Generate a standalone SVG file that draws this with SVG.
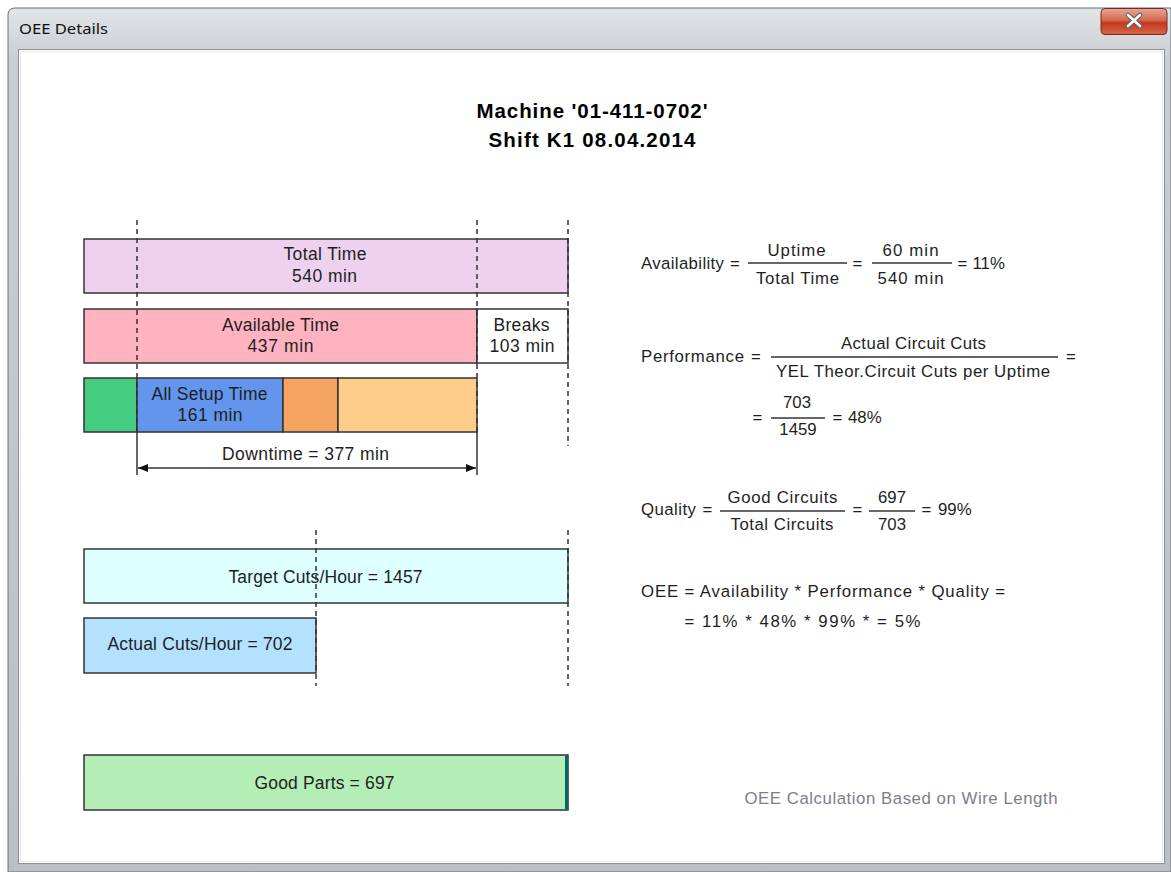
<svg xmlns="http://www.w3.org/2000/svg" width="1171" height="872" viewBox="0 0 1171 872">
<defs>
<linearGradient id="frameG" x1="0" y1="0" x2="0" y2="1">
<stop offset="0" stop-color="#e2e5e8"/><stop offset="0.06" stop-color="#c9ced3"/><stop offset="1" stop-color="#b9bfc5"/>
</linearGradient>
<linearGradient id="closeG" x1="0" y1="0" x2="0" y2="1">
<stop offset="0" stop-color="#e9a896"/><stop offset="0.45" stop-color="#d4684f"/><stop offset="0.55" stop-color="#c2391c"/><stop offset="1" stop-color="#d8664a"/>
</linearGradient>
<marker id="arrL" viewBox="0 0 10 8" refX="0" refY="4" markerWidth="10" markerHeight="8" markerUnits="userSpaceOnUse" orient="auto">
<path d="M10,0 L0,4 L10,8 Z" fill="#111"/>
</marker>
<marker id="arrR" viewBox="0 0 10 8" refX="10" refY="4" markerWidth="10" markerHeight="8" markerUnits="userSpaceOnUse" orient="auto">
<path d="M0,0 L10,4 L0,8 Z" fill="#111"/>
</marker>
<style>
.bar{stroke:#333;stroke-width:1.5}
.bt{font-family:"Liberation Sans",Arial,sans-serif;font-size:17.5px;fill:#1e1e1e}
.ft{font-family:"Liberation Sans",Arial,sans-serif;font-size:16.8px;fill:#1e1e1e}
.mid{text-anchor:middle}
.ttl{font-family:"Liberation Sans",Arial,sans-serif;font-size:20.5px;font-weight:bold;fill:#000}
.fl{stroke:#333;stroke-width:1.5}
.dash{stroke:#333;stroke-width:1.5;stroke-dasharray:5 4;fill:none}
.sol{stroke:#333;stroke-width:1.5;fill:none}
</style>
</defs>
<rect x="0" y="0" width="1171" height="872" fill="#ffffff"/>
<g id="window">
<path d="M8,872 L8,15 Q8,8 15,8 L1171,8 L1171,872 Z" fill="url(#frameG)" stroke="#6b6f74" stroke-width="1"/>
<text x="19" y="34" font-family="'Noto Sans','Open Sans',sans-serif" font-size="14.5" fill="#111" textLength="89" lengthAdjust="spacingAndGlyphs">OEE Details</text>
<rect x="18.5" y="49.5" width="1146" height="814" fill="#ffffff" stroke="#8c8f93" stroke-width="1"/>
<rect x="20.5" y="51.5" width="1142" height="810" fill="none" stroke="#e8e8e8" stroke-width="1"/>
<g id="close-btn">
<rect x="1101" y="8.5" width="66" height="26" rx="4" fill="url(#closeG)" stroke="#7a2a1a" stroke-width="1"/>
<path d="M1128,15 L1140,26 M1140,15 L1128,26" stroke="#5a5a6a" stroke-width="4.5" stroke-linecap="round"/>
<path d="M1128,15 L1140,26 M1140,15 L1128,26" stroke="#ffffff" stroke-width="2.6" stroke-linecap="round"/>
</g>
</g>
<g id="title">
<text class="ttl" x="476.5" y="118" textLength="231" lengthAdjust="spacing">Machine '01-411-0702'</text>
<text class="ttl" x="488.5" y="147" textLength="207" lengthAdjust="spacing">Shift K1 08.04.2014</text>
</g>
<g id="total-time">
<rect class="bar" x="84" y="239" width="484" height="54" fill="#eed1ee"/>
<text class="bt" x="283.5" y="260" textLength="83" lengthAdjust="spacing">Total Time</text>
<text class="bt" x="292" y="282" textLength="65" lengthAdjust="spacing">540 min</text>
</g>
<g id="available-time">
<rect class="bar" x="84" y="309" width="393" height="54" fill="#ffb3c0"/>
<text class="bt" x="222" y="331" textLength="117" lengthAdjust="spacing">Available Time</text>
<text class="bt" x="247.5" y="352" textLength="66" lengthAdjust="spacing">437 min</text>
</g>
<g id="breaks">
<rect class="bar" x="477" y="309" width="91" height="54" fill="#ffffff"/>
<text class="bt" x="493.5" y="331" textLength="56" lengthAdjust="spacing">Breaks</text>
<text class="bt" x="489.5" y="352" textLength="65" lengthAdjust="spacing">103 min</text>
</g>
<g id="uptime">
<rect class="bar" x="84" y="378" width="53" height="54" fill="#44cc80"/>
</g>
<g id="setup-time">
<rect class="bar" x="137" y="378" width="146" height="54" fill="#6495ed"/>
<text class="bt" x="151.5" y="399.5" textLength="116" lengthAdjust="spacing">All Setup Time</text>
<text class="bt" x="177.5" y="421" textLength="65" lengthAdjust="spacing">161 min</text>
</g>
<g id="downtime-2">
<rect class="bar" x="283" y="378" width="55" height="54" fill="#f4a460"/>
</g>
<g id="downtime-3">
<rect class="bar" x="338" y="378" width="139" height="54" fill="#ffcd8a"/>
</g>
<g id="target-cuts">
<rect class="bar" x="84" y="549" width="484" height="54" fill="#ddffff"/>
<text class="bt" x="228.5" y="583" textLength="194" lengthAdjust="spacing">Target Cuts/Hour = 1457</text>
</g>
<g id="actual-cuts">
<rect class="bar" x="84" y="618" width="232" height="55" fill="#b3e1fe"/>
<text class="bt" x="107.5" y="650" textLength="185" lengthAdjust="spacing">Actual Cuts/Hour = 702</text>
</g>
<g id="good-parts">
<rect class="bar" x="84" y="755" width="484" height="55" fill="#b4eeb6"/>
<rect x="565" y="755.5" width="3" height="54" fill="#006b6b"/>
<text class="bt" x="254.5" y="789" textLength="140" lengthAdjust="spacing">Good Parts = 697</text>
</g>
<g id="connectors">
<line class="dash" x1="137" y1="220" x2="137" y2="432"/>
<line class="dash" x1="477" y1="220" x2="477" y2="432"/>
<line class="dash" x1="568" y1="220" x2="568" y2="446"/>
<line class="sol" x1="137" y1="432" x2="137" y2="475"/>
<line class="sol" x1="477" y1="432" x2="477" y2="475"/>
<line class="sol" x1="138" y1="468" x2="476" y2="468" marker-start="url(#arrL)" marker-end="url(#arrR)"/>
<text class="bt" x="222" y="460" textLength="167" lengthAdjust="spacing">Downtime = 377 min</text>
<line class="dash" x1="316" y1="530" x2="316" y2="686"/>
<line class="dash" x1="568" y1="530" x2="568" y2="686"/>
</g>
<g id="availability">
<text class="ft" x="641" y="268.5" textLength="83" lengthAdjust="spacing">Availability</text>
<text class="ft mid" x="735" y="269">=</text>
<text class="ft" x="767.5" y="256" textLength="58" lengthAdjust="spacing">Uptime</text>
<line class="fl" x1="748" y1="263" x2="847" y2="263"/>
<text class="ft" x="756" y="284" textLength="83" lengthAdjust="spacing">Total Time</text>
<text class="ft mid" x="857.5" y="269">=</text>
<text class="ft" x="882.5" y="256" textLength="56" lengthAdjust="spacing">60 min</text>
<line class="fl" x1="872" y1="263" x2="952" y2="263"/>
<text class="ft" x="877.5" y="284" textLength="66" lengthAdjust="spacing">540 min</text>
<text class="ft mid" x="962.5" y="269">=</text>
<text class="ft" x="972.5" y="269">11%</text>
</g>
<g id="performance">
<text class="ft" x="641" y="362" textLength="103" lengthAdjust="spacing">Performance</text>
<text class="ft mid" x="756" y="362">=</text>
<text class="ft" x="841" y="349" textLength="145" lengthAdjust="spacing">Actual Circuit Cuts</text>
<line class="fl" x1="771" y1="357" x2="1058" y2="357"/>
<text class="ft" x="776" y="377" textLength="274" lengthAdjust="spacing">YEL Theor.Circuit Cuts per Uptime</text>
<text class="ft mid" x="1071" y="362">=</text>
<text class="ft mid" x="757.5" y="423">=</text>
<text class="ft mid" x="797" y="408">703</text>
<line class="fl" x1="771" y1="418" x2="825" y2="418"/>
<text class="ft mid" x="798" y="435">1459</text>
<text class="ft mid" x="837.5" y="423">=</text>
<text class="ft" x="848" y="423">48%</text>
</g>
<g id="quality">
<text class="ft" x="641" y="515" textLength="55" lengthAdjust="spacing">Quality</text>
<text class="ft mid" x="707.5" y="515">=</text>
<text class="ft" x="727.5" y="503" textLength="110" lengthAdjust="spacing">Good Circuits</text>
<line class="fl" x1="720" y1="511" x2="845" y2="511"/>
<text class="ft" x="730.5" y="530" textLength="103" lengthAdjust="spacing">Total Circuits</text>
<text class="ft mid" x="857.5" y="515">=</text>
<text class="ft mid" x="892" y="503">697</text>
<line class="fl" x1="869" y1="511" x2="915" y2="511"/>
<text class="ft mid" x="892" y="530">703</text>
<text class="ft mid" x="926.5" y="515">=</text>
<text class="ft" x="938" y="515">99%</text>
</g>
<g id="oee">
<text class="ft" x="641" y="597" textLength="364" lengthAdjust="spacing">OEE = Availability * Performance * Quality =</text>
<text class="ft" x="684.5" y="627" textLength="236" lengthAdjust="spacing">= 11% * 48% * 99% * = 5%</text>
</g>
<g id="footnote">
<text class="ft" x="744.5" y="804" style="fill:#7d7e8a" textLength="313" lengthAdjust="spacing">OEE Calculation Based on Wire Length</text>
</g>
</svg>
